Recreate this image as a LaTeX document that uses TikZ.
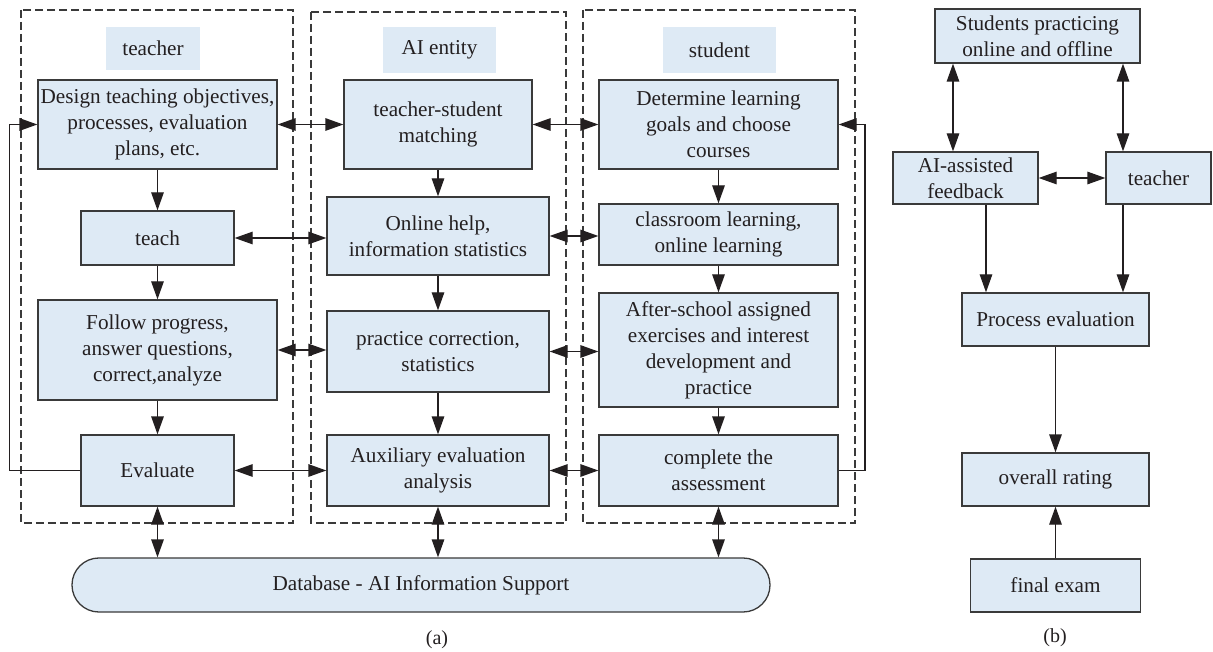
\documentclass[tikz,border=0pt]{standalone}
\usepackage{fontspec}
\setmainfont{Liberation Serif}
\usetikzlibrary{arrows.meta}
\definecolor{boxblue}{RGB}{222,234,245}
\definecolor{edgegray}{RGB}{58,58,58}
\definecolor{ink}{RGB}{35,31,32}
\begin{document}
\begin{tikzpicture}[x=1pt,y=-1pt,
  txt/.style={text=ink, font=\fontsize{21.2}{26}\selectfont, align=center, inner sep=0pt},
  box/.style={txt, draw=edgegray, fill=boxblue, line width=1.3pt},
  lab/.style={txt, fill=boxblue},
  con/.style={draw=ink, line width=1.3pt, -{Triangle[length=18pt,width=12.5pt]}},
  dcon/.style={draw=ink, line width=1.3pt, {Triangle[length=18pt,width=12.5pt]}-{Triangle[length=18pt,width=12.5pt]}},
  frame/.style={draw=edgegray, dash pattern=on 8pt off 4pt, line width=1.1pt}]
\useasboundingbox (0,0) rectangle (1213,652);
\fill[white] (0,0) rectangle (1213,652);

% dashed frames
\draw[frame] (21,10) rectangle (293,523);
\draw[frame] (311,12) rectangle (566,523);
\draw[frame] (583,10) rectangle (855,523);

% labels
\node[lab, minimum width=94pt, minimum height=43pt] (tlabel) at (153,48.5) {teacher};
\node[lab, minimum width=113pt, minimum height=46pt] (ailabel) at (439.5,50) {AI entity};
\node[lab, minimum width=113pt, minimum height=46pt] (slabel) at (719.5,50) {student};

% teacher column
\node[box, minimum width=239pt, minimum height=89pt] (design) at (157.5,124.5) {Design teaching objectives,\\processes, evaluation\\plans, etc.};
\node[box, minimum width=153pt, minimum height=54pt] (teach) at (157.5,238) {teach};
\node[box, minimum width=239pt, minimum height=100pt] (follow) at (157.5,350) {Follow progress,\\answer questions,\\correct,analyze};
\node[box, minimum width=153pt, minimum height=71pt] (evaluate) at (157.5,470.5) {Evaluate};

% AI column
\node[box, minimum width=188pt, minimum height=89pt] (match) at (438,124.5) {teacher-student\\matching};
\node[box, minimum width=222pt, minimum height=78pt] (online) at (438,236) {Online help,\\information statistics};
\node[box, minimum width=222pt, minimum height=81pt] (practice) at (438,351.5) {practice correction,\\statistics};
\node[box, minimum width=222pt, minimum height=71pt] (aux) at (438,470.5) {Auxiliary evaluation\\analysis};

% student column
\node[box, minimum width=239pt, minimum height=89pt] (determine) at (718.5,124.5) {Determine learning\\goals and choose\\courses};
\node[box, minimum width=239pt, minimum height=61pt] (classroom) at (718.5,234.5) {classroom learning,\\online learning};
\node[box, minimum width=239pt, minimum height=114pt] (after) at (718.5,350) {After-school assigned\\exercises and interest\\development and\\practice};
\node[box, minimum width=239pt, minimum height=71pt] (complete) at (718.5,470.5) {complete the\\assessment};

% database
\node[box, rounded corners=26.9pt, minimum width=698pt, minimum height=54pt] (db) at (421,585) {Database - AI Information Support};

% vertical flows
\draw[con] (design) -- (teach);
\draw[con] (teach) -- (follow);
\draw[con] (follow) -- (evaluate);
\draw[con] (match) -- (online);
\draw[con] (online) -- (practice);
\draw[con] (practice) -- (aux);
\draw[con] (determine) -- (classroom);
\draw[con] (classroom) -- (after);
\draw[con] (after) -- (complete);

% horizontal links
\draw[dcon] (design.east) -- (match.west);
\draw[dcon] (match.east) -- (determine.west);
\draw[dcon] (teach.east) -- (teach.east -| online.west);
\draw[dcon] (online.east) -- (online.east -| classroom.west);
\draw[dcon] (follow.east) -- (follow.east -| practice.west);
\draw[dcon] (practice.east) -- (practice.east -| after.west);
\draw[dcon] (evaluate.east) -- (aux.west);
\draw[dcon] (aux.east) -- (complete.west);

% database links
\draw[dcon] (evaluate.south) -- (evaluate.south |- db.north);
\draw[dcon] (aux.south) -- (aux.south |- db.north);
\draw[dcon] (complete.south) -- (complete.south |- db.north);

% feedback loops
\draw[con] (evaluate.west) -| (9.5,300) |- (design.west);
\draw[con] (complete.east) -| (865,300) |- (determine.east);

\node[txt, font=\fontsize{20}{24}\selectfont] (la) at (437,640) {(a)};

% panel b
\node[box, minimum width=205pt, minimum height=54pt] (students) at (1037.5,36) {Students practicing\\online and offline};
\node[box, minimum width=145pt, minimum height=52pt] (aif) at (965.5,178) {AI-assisted\\feedback};
\node[box, minimum width=105pt, minimum height=52pt] (bteacher) at (1158.5,178) {teacher};
\node[box, minimum width=187pt, minimum height=53pt] (process) at (1055.5,319.5) {Process evaluation};
\node[box, minimum width=187pt, minimum height=53pt] (overall) at (1055.5,479.5) {overall rating};
\node[box, minimum width=170pt, minimum height=53pt] (final) at (1055.5,585.5) {final exam};

\draw[dcon] ([xshift=-12.5pt]aif.north) -- ([xshift=-12.5pt]aif.north |- students.south);
\draw[dcon] ([xshift=-35.5pt]bteacher.north) -- ([xshift=-35.5pt]bteacher.north |- students.south);
\draw[dcon] (aif.east) -- (bteacher.west);
\draw[con] ([xshift=20.5pt]aif.south) -- ([xshift=20.5pt]aif.south |- process.north);
\draw[con] ([xshift=-35.5pt]bteacher.south) -- ([xshift=-35.5pt]bteacher.south |- process.north);
\draw[con] (process) -- (overall);
\draw[con] (final) -- (overall);

\node[txt, font=\fontsize{20}{24}\selectfont] (lb) at (1055,638) {(b)};
\end{tikzpicture}
\end{document}
